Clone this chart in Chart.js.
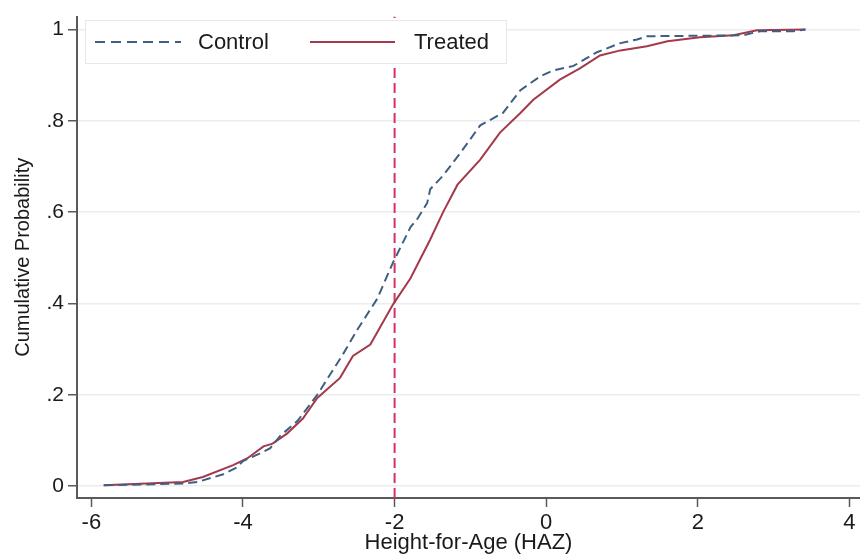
<!DOCTYPE html>
<html>
<head>
<meta charset="utf-8">
<script src="https://cdn.jsdelivr.net/npm/chart.js@4"></script>
<style>
    html, body { margin: 0; padding: 0; background: #fff; }
    #wrap { width: 860px; height: 556px; }
</style>
</head>
<body>
<div id="wrap"><canvas id="chart-cdf"></canvas></div>
<script>
const controlHaz = [-5.83, -5.18, -4.79, -4.60, -4.26, -4.08, -4.00, -3.77, -3.64, -3.51, -3.28, -3.02, -2.68, -2.49, -2.23, -2.02, -1.79, -1.70, -1.57, -1.53, -1.36, -1.13, -0.87, -0.57, -0.34, -0.08, 0.09, 0.36, 0.67, 0.98, 1.20, 1.33, 2.60, 2.82, 3.26, 3.42]
const controlCdf = [0.002, 0.004, 0.006, 0.009, 0.026, 0.041, 0.055, 0.072, 0.083, 0.110, 0.143, 0.200, 0.289, 0.343, 0.410, 0.490, 0.567, 0.585, 0.620, 0.650, 0.680, 0.730, 0.790, 0.817, 0.867, 0.897, 0.910, 0.920, 0.950, 0.970, 0.978, 0.985, 0.987, 0.996, 0.996, 1.000]

const treatedHaz = [-5.84, -4.79, -4.53, -4.13, -3.94, -3.73, -3.61, -3.42, -3.21, -3.02, -2.72, -2.55, -2.32, -2.02, -1.79, -1.53, -1.36, -1.17, -0.87, -0.61, -0.34, -0.17, 0.18, 0.45, 0.71, 0.98, 1.33, 1.60, 2.03, 2.47, 2.78, 3.42]
const treatedCdf = [0.002, 0.009, 0.020, 0.046, 0.061, 0.087, 0.093, 0.115, 0.148, 0.193, 0.237, 0.285, 0.310, 0.398, 0.455, 0.540, 0.600, 0.660, 0.715, 0.774, 0.817, 0.846, 0.890, 0.915, 0.943, 0.954, 0.963, 0.974, 0.983, 0.987, 0.998, 1.000]

const cutoff = -2
const xTicks = [-6, -4, -2, 0, 2, 4]
const yTicks = [0, 0.2, 0.4, 0.6, 0.8, 1]
const yLabels = ['0', '.2', '.4', '.6', '.8', '1']

const X_MIN = -6.19
const X_MAX = 4.14
const Y_MIN = -0.026
const Y_MAX = 1.028

const COLORS = {
    control: '#3f5f80',
    treated: '#a33a4b',
    cutoff: '#d42f66',
    axis: '#5a5a5a',
    grid: '#ececec',
    text: '#1a1a1a',
}

const FONT = '"Liberation Sans", Arial, sans-serif'

const toPoints = (xs, ys) => xs.map((x, i) => ({ x: x, y: ys[i] }))

// legend box drawn over the plot, like the stata one
const legendBox = {
    id: 'legendBox',
    afterDatasetsDraw(chart) {
        const ctx = chart.ctx
        ctx.save()
        ctx.fillStyle = '#fff'
        ctx.strokeStyle = '#e8e8e8'
        ctx.lineWidth = 1
        ctx.fillRect(85, 20, 422, 44)
        ctx.strokeRect(85.5, 20.5, 421, 43)

        ctx.lineWidth = 2
        ctx.strokeStyle = COLORS.control
        ctx.setLineDash([10, 6])
        ctx.beginPath()
        ctx.moveTo(95, 42)
        ctx.lineTo(181, 42)
        ctx.stroke()

        ctx.setLineDash([])
        ctx.strokeStyle = COLORS.treated
        ctx.beginPath()
        ctx.moveTo(310, 42)
        ctx.lineTo(395, 42)
        ctx.stroke()

        ctx.fillStyle = COLORS.text
        ctx.font = '22px ' + FONT
        ctx.textBaseline = 'middle'
        ctx.fillText('Control', 198, 43)
        ctx.fillText('Treated', 414, 43)
        ctx.restore()
    },
}

const chartCdf = new Chart(document.getElementById('chart-cdf'), {
    type: 'line',
    data: {
        datasets: [
            {
                label: 'Control',
                data: toPoints(controlHaz, controlCdf),
                borderColor: COLORS.control,
                borderWidth: 2,
                borderDash: [9, 5],
                pointRadius: 0,
                tension: 0,
            },
            {
                label: 'Treated',
                data: toPoints(treatedHaz, treatedCdf),
                borderColor: COLORS.treated,
                borderWidth: 2,
                pointRadius: 0,
                tension: 0,
            },
            {
                label: 'cutoff',
                data: [{ x: cutoff, y: Y_MIN }, { x: cutoff, y: Y_MAX }],
                borderColor: COLORS.cutoff,
                borderWidth: 2,
                borderDash: [10, 5],
                pointRadius: 0,
            },
        ],
    },
    options: {
        responsive: true,
        maintainAspectRatio: false,
        animation: false,
        layout: {
            padding: { top: 13, right: 0, left: 0, bottom: 0 },
        },
        plugins: {
            legend: { display: false },
            tooltip: { enabled: false },
        },
        scales: {
            x: {
                type: 'linear',
                min: X_MIN,
                max: X_MAX,
                afterBuildTicks: (scale) => {
                    scale.ticks = xTicks.map((v) => ({ value: v }))
                },
                afterFit: (scale) => {
                    scale.height = 58
                },
                ticks: {
                    color: COLORS.text,
                    font: { family: FONT, size: 22 },
                    padding: 3,
                    maxRotation: 0,
                    callback: (v) => String(v),
                },
                grid: {
                    drawOnChartArea: false,
                    tickLength: 9,
                    tickColor: COLORS.axis,
                    tickWidth: 1.5,
                },
                border: { color: COLORS.axis, width: 2 },
                title: {
                    display: true,
                    text: 'Height-for-Age (HAZ)',
                    color: COLORS.text,
                    font: { family: FONT, size: 22 },
                    padding: { top: 0, bottom: 0 },
                },
            },
            y: {
                min: Y_MIN,
                max: Y_MAX,
                afterBuildTicks: (scale) => {
                    scale.ticks = yTicks.map((v) => ({ value: v }))
                },
                afterFit: (scale) => {
                    scale.width = 77
                },
                ticks: {
                    color: COLORS.text,
                    font: { family: FONT, size: 21 },
                    padding: 4,
                    callback: (v) => yLabels[yTicks.indexOf(v)],
                },
                grid: {
                    color: COLORS.grid,
                    lineWidth: 1.5,
                    tickLength: 9,
                    tickColor: COLORS.axis,
                    tickWidth: 1.5,
                },
                border: { color: COLORS.axis, width: 2 },
                title: {
                    display: true,
                    text: 'Cumulative Probability',
                    color: COLORS.text,
                    font: { family: FONT, size: 20 },
                    padding: { top: 11, bottom: 0 },
                },
            },
        },
    },
    plugins: [legendBox],
})
</script>
</body>
</html>
